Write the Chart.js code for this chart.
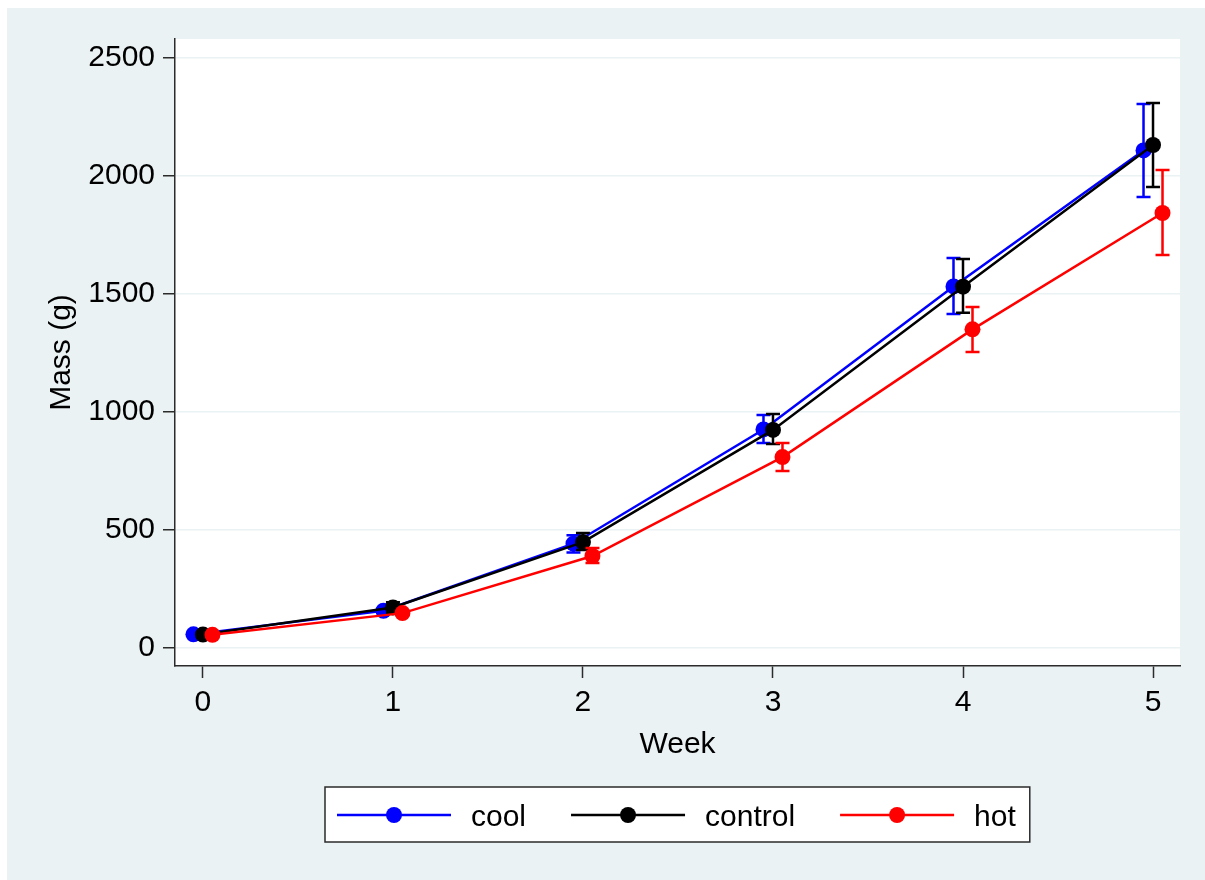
<!DOCTYPE html>
<html>
<head>
<meta charset="utf-8">
<title>Mass by week</title>
<script src="https://cdn.jsdelivr.net/npm/chart.js@4.4.1/dist/chart.umd.min.js"></script>
<style>
    html, body { margin: 0; padding: 0; background: #ffffff; }
    #wrap { width: 1205px; height: 880px; }
    #chart { display: block; }
</style>
</head>
<body>
<div id="wrap"><canvas id="chart" width="1205" height="880"></canvas></div>
<script>
// Data
const weeks = [0, 1, 2, 3, 4, 5];
const seriesNames = ['cool', 'control', 'hot'];

const coolMean = [58, 158, 442, 926, 1532, 2108];
const coolLow = [54, 150, 405, 869, 1415, 1911];
const coolHigh = [62, 166, 478, 987, 1652, 2305];

const controlMean = [57, 172, 449, 924, 1531, 2131];
const controlLow = [53, 150, 415, 864, 1420, 1953];
const controlHigh = [61, 194, 487, 992, 1648, 2309];

const hotMean = [56, 148, 390, 809, 1350, 1843];
const hotLow = [52, 140, 360, 750, 1254, 1665];
const hotHigh = [60, 156, 424, 869, 1445, 2025];

const yTicks = [0, 500, 1000, 1500, 2000, 2500];
const xTicks = [0, 1, 2, 3, 4, 5];

const JITTER = 0.05;
const FONT = "'Liberation Sans', Arial, Helvetica, sans-serif";
const BG = '#eaf2f3';
const AXIS = '#2b2b2b';

function makeSeries(label, color, means, lows, highs, shift, order) {
    return {
        label: label,
        data: weeks.map((w, i) => ({ x: w + shift, y: means[i] })),
        errLow: lows,
        errHigh: highs,
        borderColor: color,
        backgroundColor: color,
        pointBackgroundColor: color,
        pointBorderColor: color,
        pointRadius: 8,
        pointBorderWidth: 0,
        borderWidth: 2.5,
        tension: 0,
        order: order
    };
}

const datasets = [
    makeSeries(seriesNames[0], '#0000ff', coolMean, coolLow, coolHigh, -JITTER, 3),
    makeSeries(seriesNames[1], '#000000', controlMean, controlLow, controlHigh, 0, 2),
    makeSeries(seriesNames[2], '#ff0000', hotMean, hotLow, hotHigh, JITTER, 1)
];

// backgrounds: outer panel and white plot region
const backgroundPlugin = {
    id: 'backgrounds',
    beforeDraw(chart) {
        const { ctx, chartArea: a } = chart;
        ctx.save();
        ctx.fillStyle = '#ffffff';
        ctx.fillRect(0, 0, chart.width, chart.height);
        ctx.fillStyle = BG;
        ctx.fillRect(7, 8, chart.width - 7, chart.height - 8);
        ctx.fillStyle = '#ffffff';
        ctx.fillRect(a.left, a.top, a.right - a.left, a.bottom - a.top);
        ctx.restore();
    }
};

// capped error bars, drawn right after each series
const errorBarPlugin = {
    id: 'errorBars',
    afterDatasetDraw(chart, args) {
        const ds = chart.data.datasets[args.index];
        const xs = chart.scales.x;
        const ys = chart.scales.y;
        const ctx = chart.ctx;
        ctx.save();
        ctx.strokeStyle = ds.borderColor;
        ctx.lineWidth = 2.5;
        ds.data.forEach((pt, i) => {
            const px = xs.getPixelForValue(pt.x);
            const top = ys.getPixelForValue(ds.errHigh[i]);
            const bot = ys.getPixelForValue(ds.errLow[i]);
            ctx.beginPath();
            ctx.moveTo(px, top);
            ctx.lineTo(px, bot);
            ctx.moveTo(px - 7, top);
            ctx.lineTo(px + 7, top);
            ctx.moveTo(px - 7, bot);
            ctx.lineTo(px + 7, bot);
            ctx.stroke();
        });
        ctx.restore();
    }
};

// axis titles and the boxed legend under the plot
const decorPlugin = {
    id: 'decor',
    afterDraw(chart) {
        const { ctx, chartArea: a } = chart;
        const midX = (a.left + a.right) / 2;
        ctx.save();
        ctx.fillStyle = '#000000';
        ctx.font = '30px ' + FONT;
        ctx.textAlign = 'center';
        ctx.textBaseline = 'alphabetic';
        ctx.fillText('Week', midX, 753);

        ctx.save();
        ctx.translate(70, (a.top + a.bottom) / 2);
        ctx.rotate(-Math.PI / 2);
        ctx.fillText('Mass (g)', 0, 0);
        ctx.restore();

        // legend
        const lineLen = 114, gapText = 20, gapItem = 45, padL = 12, padR = 14;
        const widths = datasets.map(d => ctx.measureText(d.label).width);
        let total = padL + padR + gapItem * (datasets.length - 1);
        widths.forEach(w => { total += lineLen + gapText + w; });
        const boxX = Math.round(midX - total / 2);
        const boxY = 787, boxH = 55, midY = 815;

        ctx.fillStyle = '#ffffff';
        ctx.fillRect(boxX, boxY, total, boxH);
        ctx.strokeStyle = AXIS;
        ctx.lineWidth = 1.5;
        ctx.strokeRect(boxX, boxY, total, boxH);

        let x = boxX + padL;
        datasets.forEach((d, i) => {
            ctx.strokeStyle = d.borderColor;
            ctx.lineWidth = 2.5;
            ctx.beginPath();
            ctx.moveTo(x, midY);
            ctx.lineTo(x + lineLen, midY);
            ctx.stroke();
            ctx.fillStyle = d.borderColor;
            ctx.beginPath();
            ctx.arc(x + lineLen / 2, midY, 8, 0, Math.PI * 2);
            ctx.fill();

            const tx = x + lineLen + gapText;
            ctx.fillStyle = '#000000';
            ctx.textAlign = 'left';
            ctx.fillText(d.label, tx, 826);
            x = tx + widths[i] + gapItem;
        });
        ctx.restore();
    }
};

const canvas = document.getElementById('chart');
new Chart(canvas, {
    type: 'line',
    data: { datasets: datasets },
    plugins: [backgroundPlugin, errorBarPlugin, decorPlugin],
    options: {
        responsive: false,
        maintainAspectRatio: false,
        animation: false,
        devicePixelRatio: 1,
        layout: { padding: { left: 0, top: 39, right: 25, bottom: 0 } },
        plugins: {
            legend: { display: false },
            tooltip: { enabled: false }
        },
        scales: {
            x: {
                type: 'linear',
                min: -0.147,
                max: 5.142,
                afterBuildTicks: s => { s.ticks = xTicks.map(v => ({ value: v })); },
                afterFit: s => { s.height = 880 - 666; },
                grid: {
                    drawOnChartArea: false,
                    tickLength: 12,
                    tickColor: AXIS,
                    tickWidth: 1.5
                },
                border: { color: AXIS, width: 1.5 },
                ticks: {
                    color: '#000000',
                    font: { family: FONT, size: 30 },
                    padding: 7,
                    maxRotation: 0,
                    callback: v => String(v)
                }
            },
            y: {
                type: 'linear',
                min: -76,
                max: 2580,
                afterBuildTicks: s => { s.ticks = yTicks.map(v => ({ value: v })); },
                afterFit: s => { s.width = 175; },
                grid: {
                    color: BG,
                    lineWidth: 1.5,
                    tickLength: 12,
                    tickColor: AXIS,
                    tickWidth: 1.5
                },
                border: { color: AXIS, width: 1.5 },
                ticks: {
                    color: '#000000',
                    font: { family: FONT, size: 30 },
                    padding: 8,
                    callback: v => String(v)
                }
            }
        }
    }
});
</script>
</body>
</html>
